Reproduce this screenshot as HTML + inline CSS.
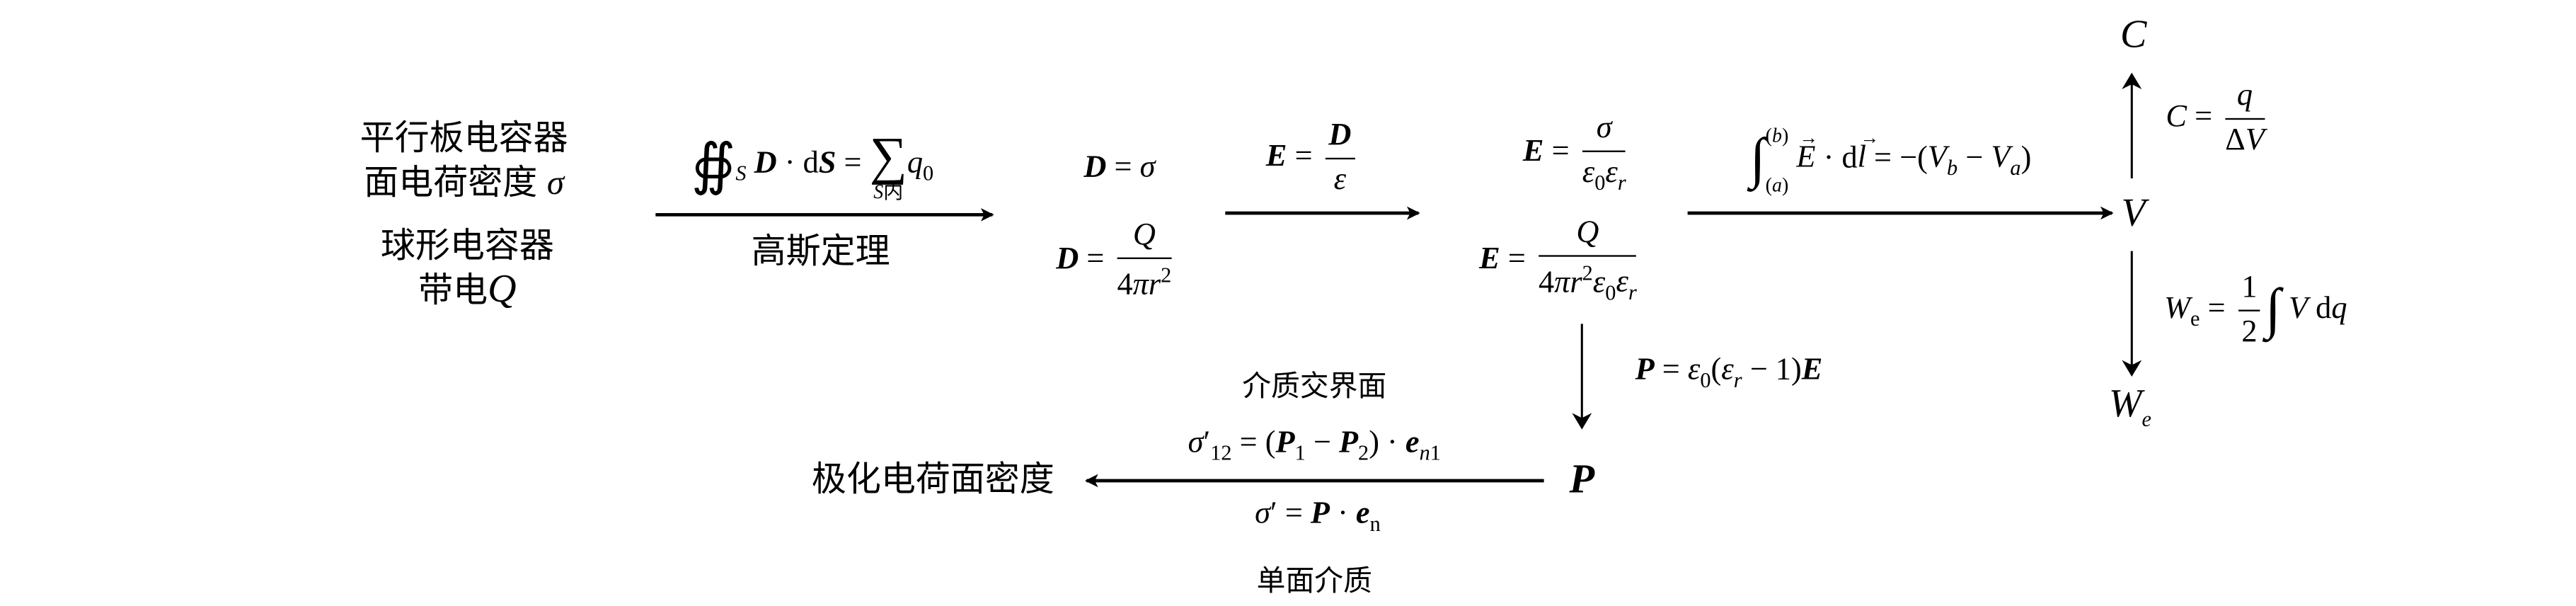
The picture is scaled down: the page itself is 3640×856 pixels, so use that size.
<!DOCTYPE html>
<html><head><meta charset="utf-8"><style>
html,body{margin:0;padding:0;background:#fff;}
body{width:3640px;height:855px;overflow:hidden;position:relative;}
#w{position:absolute;left:0;top:0;width:1560px;height:366.4px;transform:scale(2.3333);transform-origin:0 0;}
.c{position:absolute;transform:translate(-50%,-50%);white-space:nowrap;font-family:"Liberation Serif","Noto Serif CJK SC",serif;font-size:19px;color:#000;}
.cn{font-family:"Liberation Sans","Noto Sans CJK SC",sans-serif;font-size:21px;text-align:center;line-height:26px;}
.cs{font-family:"Liberation Sans","Noto Sans CJK SC",sans-serif;font-size:17.5px;}
i{font-style:italic;}
b{font-weight:bold;font-style:italic;}
.f{display:inline-flex;flex-direction:column;vertical-align:middle;text-align:center;margin:0 3px;}
.f>span:first-child{border-bottom:1.2px solid #000;padding:0 2px 2px;}
.f>span:last-child{padding-top:2px;}
sub,sup{font-size:13px;}
.big{font-size:34px;vertical-align:middle;}
.v{position:relative;display:inline-block;}
.v::after{content:"→";position:absolute;top:-0.62em;left:0.15em;font-size:0.6em;font-style:normal;}
</style></head><body><div id="w">
<svg width="1560" height="367" style="position:absolute;left:0;top:0">
<defs><marker id="a" markerWidth="8" markerHeight="8" refX="7" refY="4" orient="auto" markerUnits="userSpaceOnUse"><path d="M0,0 L8,4 L0,8 L2,4 Z" fill="#000"/></marker>
<marker id="s" markerWidth="10" markerHeight="12" refX="9" refY="6" orient="auto" markerUnits="userSpaceOnUse"><path d="M0,0 L10,6 L0,12 L3,6 Z" fill="#000"/></marker></defs>
<g stroke="#000" fill="none">
<line x1="397" y1="130" x2="601" y2="130" stroke-width="2" marker-end="url(#a)"/>
<line x1="742" y1="129" x2="859" y2="129" stroke-width="2" marker-end="url(#a)"/>
<line x1="1022" y1="129" x2="1279" y2="129" stroke-width="2" marker-end="url(#a)"/>
<line x1="935" y1="291" x2="658" y2="291" stroke-width="2" marker-end="url(#a)"/>
<line x1="1291" y1="108" x2="1291" y2="45" stroke-width="1.3" marker-end="url(#s)"/>
<line x1="1291" y1="152" x2="1291" y2="227" stroke-width="1.3" marker-end="url(#s)"/>
<line x1="958" y1="196" x2="958" y2="259" stroke-width="1.3" marker-end="url(#s)"/>
</g></svg>

<div class="c cn" style="left:281px;top:98px">平行板电容器<br>面电荷密度 <i style="font-family:'Liberation Serif',serif">σ</i></div>
<div class="c cn" style="left:283px;top:163px">球形电容器<br>带电<i style="font-family:'Liberation Serif',serif;font-size:24px">Q</i></div>

<div class="c" style="left:492px;top:100px"><span class="big">∯</span><sub><i>S</i></sub> <b>D</b> · d<b>S</b> = <span style="display:inline-flex;flex-direction:column;vertical-align:middle;text-align:center;line-height:1"><span style="font-size:32px">∑</span><span style="font-size:12px"><i>S</i><span style="font-family:'Noto Sans CJK SC',sans-serif">内</span></span></span><i>q</i><sub>0</sub></div>
<div class="c cn" style="left:497px;top:153px">高斯定理</div>

<div class="c" style="left:678px;top:102px"><b>D</b> = <i>σ</i></div>
<div class="c" style="left:676px;top:158px"><b>D</b> = <span class="f"><span><i>Q</i></span><span>4<i>πr</i><sup>2</sup></span></span></div>

<div class="c" style="left:795px;top:96px"><b>E</b> = <span class="f"><span><b>D</b></span><span><i>ε</i></span></span></div>

<div class="c" style="left:955px;top:93px"><b>E</b> = <span class="f"><span><i>σ</i></span><span><i>ε</i><sub>0</sub><i>ε<sub>r</sub></i></span></span></div>
<div class="c" style="left:945px;top:158px"><b>E</b> = <span class="f"><span><i>Q</i></span><span>4<i>πr</i><sup>2</sup><i>ε</i><sub>0</sub><i>ε<sub>r</sub></i></span></span></div>

<div class="c" style="left:1145px;top:97px"><span class="big">∫</span><span style="display:inline-flex;flex-direction:column;vertical-align:middle;font-size:12px;line-height:30px"><span>(<i>b</i>)</span><span>(<i>a</i>)</span></span> <i class="v">E</i> · d<i class="v">l</i> = −(<i>V<sub>b</sub></i> − <i>V<sub>a</sub></i>)</div>

<div class="c" style="left:1292px;top:130px;font-size:24px"><i>V</i></div>
<div class="c" style="left:1292px;top:22px;font-size:24px"><i>C</i></div>
<div class="c" style="left:1343px;top:72px"><i>C</i> = <span class="f"><span><i>q</i></span><span>Δ<i>V</i></span></span></div>
<div class="c" style="left:1366px;top:188px"><i>W</i><sub>e</sub> = <span class="f"><span>1</span><span>2</span></span><span class="big">∫</span> <i>V</i> d<i>q</i></div>
<div class="c" style="left:1290px;top:247px;font-size:24px"><i>W<sub>e</sub></i></div>

<div class="c" style="left:1047px;top:226px"><b>P</b> = <i>ε</i><sub>0</sub>(<i>ε<sub>r</sub></i> − 1)<b>E</b></div>
<div class="c" style="left:958px;top:291px;font-size:25px"><b>P</b></div>

<div class="c cn" style="left:565px;top:291px">极化电荷面密度</div>
<div class="c cs" style="left:796px;top:233px">介质交界面</div>
<div class="c" style="left:796px;top:270px"><i>σ</i>′<sub>12</sub> = (<b>P</b><sub>1</sub> − <b>P</b><sub>2</sub>) · <b>e</b><sub><i>n</i>1</sub></div>
<div class="c" style="left:798px;top:313px"><i>σ</i>′ = <b>P</b> · <b>e</b><sub>n</sub></div>
<div class="c cs" style="left:796px;top:351px">单面介质</div>
</div></body></html>
